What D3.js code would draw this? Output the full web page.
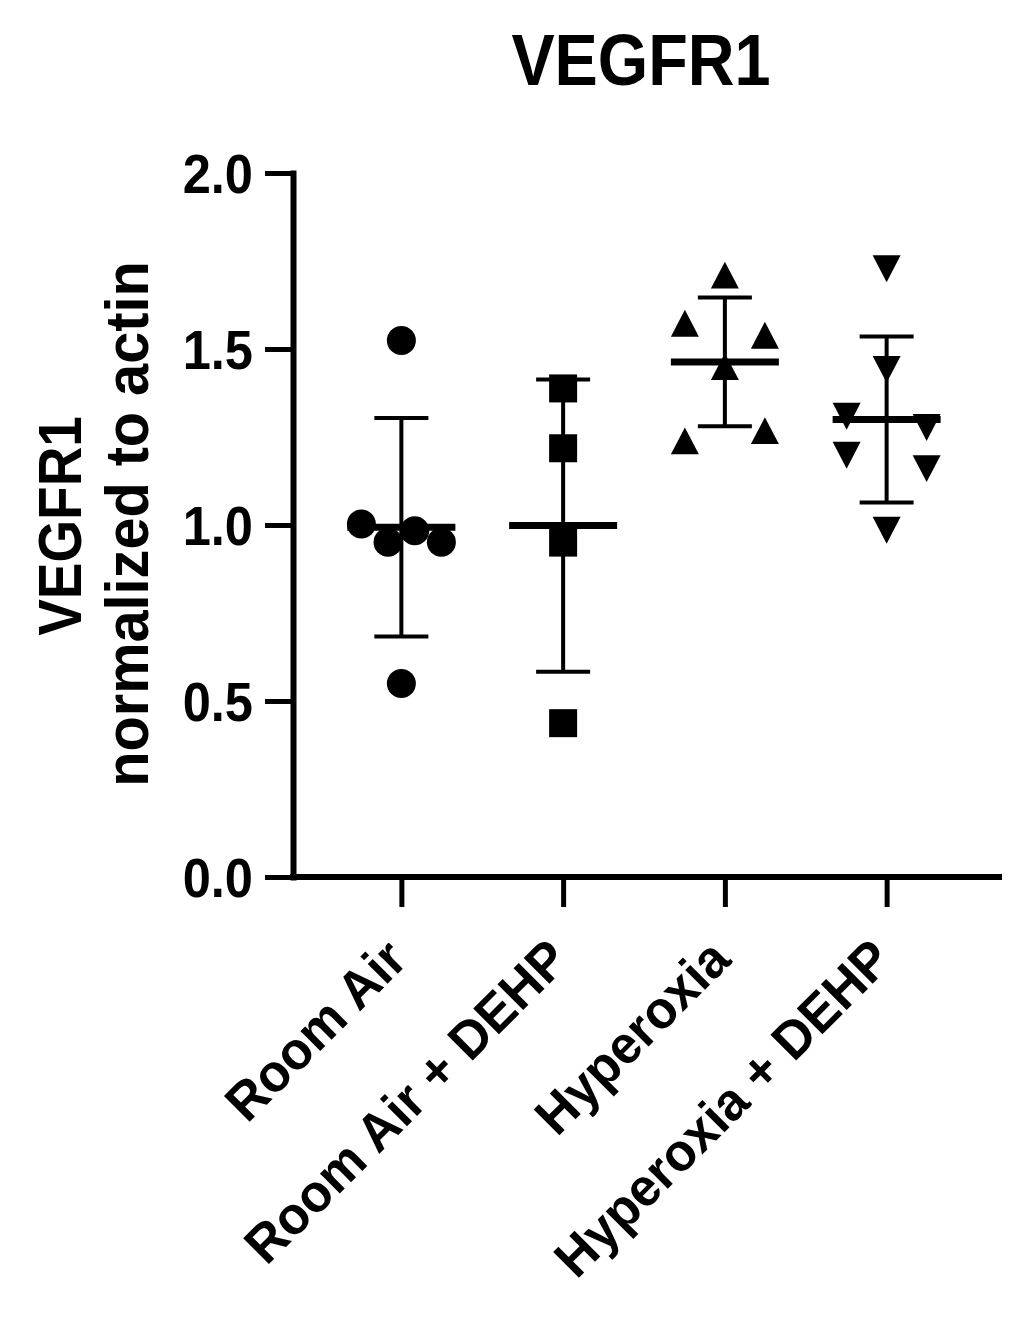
<!DOCTYPE html>
<html>
<head>
<meta charset="utf-8">
<script src="https://cdn.jsdelivr.net/npm/d3@7"></script>
<style>
  html, body { margin: 0; padding: 0; background: #fff; }
  text { font-family: "Liberation Sans", Arial, sans-serif; font-weight: bold; fill: #000; }
</style>
</head>
<body>
<div id="chart"></div>
<script>
// values
const categories = ["Room Air", "Room Air + DEHP", "Hyperoxia", "Hyperoxia + DEHP"];
const roomAir = [1.524, 1.003, 0.951, 0.984, 0.951, 0.550];
const roomAirDehp = [1.388, 1.218, 0.950, 0.437];
const hyperoxia = [1.710, 1.573, 1.539, 1.450, 1.239, 1.268];
const hyperoxiaDehp = [1.728, 1.442, 1.309, 1.277, 1.198, 1.160, 0.985];
const yTicks = [0, 0.5, 1.0, 1.5, 2.0];
const chartTitle = "VEGFR1";
const yTitle = ["VEGFR1", "normalized to actin"];

const groups = [roomAir, roomAirDehp, hyperoxia, hyperoxiaDehp];

const width = 1033, height = 1333;
const margin = { top: 173, right: 31, bottom: 456, left: 293 };
const squeeze = 0.9; // the figure's font is a little narrower than Arial

const svg = d3.select("#chart").append("svg")
    .attr("width", width)
    .attr("height", height);

const xScale = d3.scalePoint()
    .domain(categories)
    .range([margin.left, 995])
    .padding(0.67);

const yScale = d3.scaleLinear()
    .domain([0, 2])
    .range([height - margin.bottom, margin.top]);

// triangles centred on their bounding box, like Prism draws them
const triUp = {
    draw(ctx, s) {
        const h = s * 0.48;
        ctx.moveTo(0, -h); ctx.lineTo(s / 2, h); ctx.lineTo(-s / 2, h); ctx.closePath();
    }
};
const triDown = {
    draw(ctx, s) {
        const h = s * 0.48;
        ctx.moveTo(0, h); ctx.lineTo(s / 2, -h); ctx.lineTo(-s / 2, -h); ctx.closePath();
    }
};
const symbols = [
    d3.symbol().type(d3.symbolCircle).size(Math.PI * 14.5 * 14.5),
    d3.symbol().type(d3.symbolSquare).size(28 * 28),
    d3.symbol().type(triUp).size(28),
    d3.symbol().type(triDown).size(28)
];

// spread points with near-equal values sideways
function spread(values) {
    const order = d3.range(values.length).sort((a, b) => values[b] - values[a]);
    const offsets = new Array(values.length).fill(0);
    let row = [];
    const flush = () => {
        row.sort((a, b) => a - b);
        row.forEach((idx, i) => {
            offsets[idx] = row.length === 1 ? 0 : -40 + 80 * i / (row.length - 1);
        });
        row = [];
    };
    order.forEach(idx => {
        if (row.length && values[row[0]] - values[idx] > 0.065) flush();
        row.push(idx);
    });
    flush();
    return offsets;
}

// title
svg.append("text")
    .attr("transform", `translate(641, 85) scale(${squeeze},1)`)
    .attr("text-anchor", "middle")
    .style("font-size", "72px")
    .text(chartTitle);

// y axis title (two lines)
svg.append("text")
    .attr("transform", `translate(81, 526) rotate(-90) scale(${squeeze},1)`)
    .attr("text-anchor", "middle")
    .style("font-size", "61px")
    .text(yTitle[0]);
svg.append("text")
    .attr("transform", `translate(148, 524) rotate(-90) scale(0.93,1)`)
    .attr("text-anchor", "middle")
    .style("font-size", "62px")
    .text(yTitle[1]);

// y axis
const yAxis = svg.append("g")
    .attr("transform", `translate(${margin.left},0)`)
    .call(d3.axisLeft(yScale).tickValues(yTicks).tickSize(28).tickSizeOuter(0).tickFormat(d3.format(".1f")));
yAxis.attr("font-family", null).attr("font-size", null);
yAxis.select(".domain")
    .attr("stroke-width", 6)
    .attr("stroke-linecap", "square");
yAxis.selectAll(".tick line").attr("stroke-width", 5);
yAxis.selectAll(".tick text")
    .attr("x", -40 / 0.92)
    .attr("dy", "0.36em")
    .attr("transform", "scale(0.92,1)")
    .style("font-size", "55px");

// x axis
const x0 = yScale(0);
svg.append("line")
    .attr("x1", margin.left - 3).attr("x2", width - margin.right)
    .attr("y1", x0).attr("y2", x0)
    .attr("stroke", "#000").attr("stroke-width", 6);
const xAxis = svg.append("g")
    .attr("transform", `translate(0,${x0})`)
    .call(d3.axisBottom(xScale).tickSize(30).tickFormat(""));
xAxis.select(".domain").remove();
xAxis.selectAll(".tick line").attr("stroke-width", 5);

svg.append("g")
    .selectAll("text")
    .data(categories)
    .join("text")
    .attr("transform", d => `translate(${xScale(d) + 8}, 962) rotate(-45) scale(0.97,1)`)
    .attr("text-anchor", "end")
    .style("font-size", "53px")
    .text(d => d);

// error bars (mean +/- SD) and points
const plot = svg.append("g");
groups.forEach((values, gi) => {
    const cx = xScale(categories[gi]);
    const mean = d3.mean(values);
    const sd = d3.deviation(values);
    const offsets = spread(values);
    const g = plot.append("g");

    g.append("line")
        .attr("x1", cx).attr("x2", cx)
        .attr("y1", yScale(mean + sd)).attr("y2", yScale(mean - sd))
        .attr("stroke", "#000").attr("stroke-width", 4);
    g.selectAll(".cap")
        .data([mean + sd, mean - sd])
        .join("line")
        .attr("class", "cap")
        .attr("x1", cx - 27).attr("x2", cx + 27)
        .attr("y1", d => yScale(d)).attr("y2", d => yScale(d))
        .attr("stroke", "#000").attr("stroke-width", 4);

    g.selectAll("path")
        .data(values)
        .join("path")
        .attr("d", symbols[gi])
        .attr("transform", (d, i) => `translate(${cx + offsets[i]},${yScale(d)})`)
        .attr("fill", "#000");

    g.append("line")
        .attr("x1", cx - 54).attr("x2", cx + 54)
        .attr("y1", yScale(mean)).attr("y2", yScale(mean))
        .attr("stroke", "#000").attr("stroke-width", 7);
});
</script>
</body>
</html>
